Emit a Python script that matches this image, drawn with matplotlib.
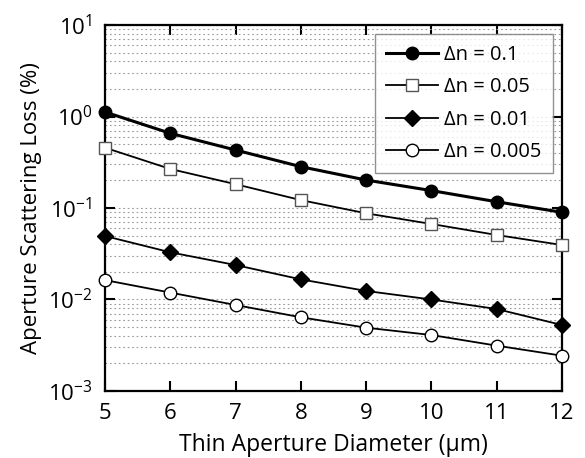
import matplotlib
matplotlib.use("Agg")
import matplotlib.pyplot as plt
from matplotlib.ticker import LogLocator, FixedLocator

plt.rcParams['font.family'] = ['Open Sans', 'DejaVu Sans']

diameters = [5, 6, 7, 8, 9, 10, 11, 12]
loss_01 = [1.12, 0.655, 0.43, 0.283, 0.202, 0.155, 0.117, 0.0897]
loss_005 = [0.456, 0.267, 0.182, 0.122, 0.0875, 0.0669, 0.0507, 0.0394]
loss_001 = [0.0494, 0.0328, 0.0238, 0.0166, 0.0124, 0.0100, 0.00787, 0.00526]
loss_0005 = [0.0163, 0.0119, 0.00871, 0.00639, 0.00492, 0.00409, 0.00313, 0.00243]
labels = ["\u0394n = 0.1", "\u0394n = 0.05", "\u0394n = 0.01", "\u0394n = 0.005"]

fig = plt.figure(figsize=(5.85, 4.58), dpi=100)
ax = fig.add_axes([0.1795, 0.1463, 0.7812, 0.7991])

ax.set_yscale('log')
ax.set_xlim(5, 12)
ax.set_ylim(1e-3, 1e1)

ax.plot(diameters, loss_01, '-o', color='black', lw=2.2, ms=9,
        mfc='black', mec='black', label=labels[0], clip_on=False, zorder=5)
ax.plot(diameters, loss_005, '-s', color='black', lw=1.3, ms=9,
        mfc='white', mec='#555555', mew=1.0, label=labels[1], clip_on=False, zorder=5)
ax.plot(diameters, loss_001, '-D', color='black', lw=1.3, ms=8,
        mfc='black', mec='black', label=labels[2], clip_on=False, zorder=5)
ax.plot(diameters, loss_0005, '-o', color='black', lw=1.3, ms=9,
        mfc='white', mec='black', mew=1.0, label=labels[3], clip_on=False, zorder=5)

ax.xaxis.set_major_locator(FixedLocator(diameters))
ax.yaxis.set_major_locator(LogLocator(base=10, numticks=10))
ax.yaxis.set_minor_locator(LogLocator(base=10, subs=range(2, 10), numticks=100))
ax.tick_params(axis='y', which='minor', length=0)
ax.tick_params(which='major', direction='in', length=7, width=1.5,
               top=True, right=True, labelsize=16, pad=9)
ax.grid(True, axis='y', which='both', linestyle=(0, (1.5, 2.5)), color='#999999', lw=0.8)
ax.set_axisbelow(True)

for s in ax.spines.values():
    s.set_linewidth(1.6)

ax.set_xlabel("Thin Aperture Diameter (\u03bcm)", fontsize=16.5, labelpad=6)
ax.set_ylabel("Aperture Scattering Loss (%)", fontsize=16, labelpad=4)

leg = ax.legend(loc='upper right', bbox_to_anchor=(0.98, 0.976), fontsize=14.5,
                frameon=True, fancybox=False, edgecolor='#777777',
                handlelength=2.6, borderpad=0.55, labelspacing=0.62, handletextpad=0.3,
                borderaxespad=0.0)
leg.get_frame().set_linewidth(1.0)

fig.savefig("out.png", dpi=100)
